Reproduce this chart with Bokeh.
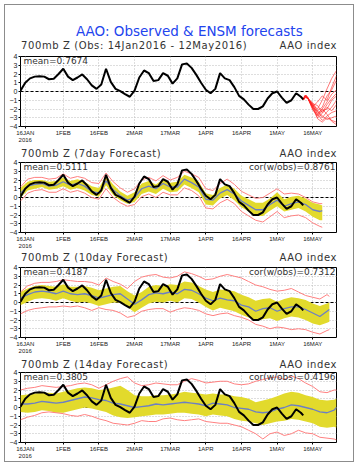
from bokeh.plotting import figure
from bokeh.models import Range1d, FixedTicker, Span, Label, Div
from bokeh.layouts import column
from bokeh.embed import file_html
from bokeh.resources import INLINE

# ---------------- data ----------------
TICK_DAYS = [0, 16, 31, 46, 61, 76, 91, 106, 121]          # days since 16JAN2016
TICK_LABELS = ["16JAN\n2016", "1FEB", "16FEB", "2MAR", "17MAR", "1APR", "16APR", "1MAY", "16MAY"]
Y_TICKS = [-4, -3, -2, -1, 0, 1, 2, 3, 4]

OBS_DAY = [-2, 0, 2, 4, 6, 8, 10, 12, 14, 16, 18, 20, 22, 24, 26, 28, 30, 32, 34, 36,
           38, 40, 42, 44, 46, 48, 50, 52, 54, 56, 58, 60, 62, 64, 66, 68, 70, 72, 74, 76,
           78, 80, 82, 84, 86, 88, 90, 92, 94, 96, 98, 100, 102, 104, 106, 108, 110, 112, 114, 116, 117]
OBS_VAL = [0.1, 1.0, 1.5, 1.7, 1.75, 1.7, 1.4, 1.45, 2.0, 2.6, 1.7, 1.3, 1.6, 1.95, 1.4, 0.7, 0.3, 0.8, 2.6, 1.1,
           0.3, 0.05, -0.3, -0.6, 0.1, 1.6, 2.4, 2.1, 1.2, 1.3, 2.1, 1.8, 0.9, 1.5, 3.1, 3.2, 2.7, 1.9, 1.0, 0.2,
           -0.2, 0.3, 2.1, 1.5, 1.3, 0.5, -0.5, -0.9, -1.5, -2.0, -2.0, -1.7, -0.8, -0.2, 0.0, -0.7, -1.3, -1.0, -0.2, -0.6, -0.9]

# ensemble members of the 14-day forecast from 12MAY (panel 1)
ENS_DAY = [117, 118, 119, 121, 123, 125, 127, 129, 131]
ENS_MEMBERS = [
    [-0.9, -0.5, -0.8, -1.5, -2.0, -1.0, 0.3, 1.5, 2.4],
    [-0.9, -0.5, -0.8, -1.7, -1.2, -0.5, -1.0, 0.5, 1.8],
    [-0.9, -0.5, -0.8, -1.3, -2.2, -1.8, -0.5, 0.2, 1.3],
    [-0.9, -0.5, -0.8, -1.8, -2.5, -2.0, -1.2, -0.3, 0.2],
    [-0.9, -0.5, -0.8, -1.4, -1.6, -2.4, -1.5, -0.8, -0.2],
    [-0.9, -0.5, -0.8, -1.9, -2.8, -2.2, -2.0, -1.0, -0.5],
    [-0.9, -0.5, -0.8, -1.6, -2.3, -3.0, -2.3, -1.8, -1.0],
    [-0.9, -0.5, -0.8, -2.0, -3.0, -2.5, -1.8, -2.2, -1.5],
    [-0.9, -0.5, -0.8, -1.5, -2.6, -3.3, -2.8, -2.4, -2.2],
    [-0.9, -0.5, -0.8, -1.8, -2.2, -2.8, -3.2, -3.0, -2.8],
    [-0.9, -0.5, -0.8, -1.7, -3.1, -3.5, -3.0, -3.3, -3.5],
    [-0.9, -0.5, -0.8, -2.1, -2.7, -2.0, -2.6, -3.4, -3.8],
]

# 7-day forecast
F7_DAY = [-2, 1, 4, 7, 10, 13, 16, 19, 22, 25, 28, 31, 34, 37, 40, 43, 46, 49, 52, 55, 58, 61,
          64, 67, 70, 73, 76, 79, 82, 85, 88, 91, 94, 97, 100, 103, 106, 109, 112, 115, 118, 121, 124, 125]
F7_MEAN = [0.5, 1.3, 1.5, 1.6, 1.3, 1.4, 1.8, 1.4, 1.6, 1.3, 0.7, 0.5, 1.9, 0.9, 0.2, -0.3, 0.0, 1.0, 1.3, 1.0, 1.6, 1.2,
           1.2, 2.1, 1.7, 1.2, -0.2, -0.3, 0.5, 0.9, 0.4, -0.4, -0.9, -1.4, -1.4, -0.8, -0.3, -1.0, -0.7, -0.5, -0.8, -1.4, -1.6, -1.5]
F7_SD_HI = [1.1, 1.8, 2.0, 2.0, 1.8, 1.9, 2.3, 1.9, 2.1, 1.8, 1.3, 1.1, 2.5, 1.5, 0.7, 0.2, 0.6, 1.6, 1.9, 1.5, 2.1, 1.7,
            1.8, 2.6, 2.3, 1.8, 0.5, 0.3, 1.1, 1.5, 1.0, 0.2, -0.2, -0.6, -0.6, -0.1, 0.6, -0.2, 0.1, 0.2, -0.1, -0.6, -0.8, -0.9]
F7_SD_LO = [0.0, 0.8, 1.0, 1.2, 0.9, 1.0, 1.3, 0.9, 1.1, 0.8, 0.3, 0.1, 1.4, 0.3, -0.3, -0.7, -0.5, 0.4, 0.7, 0.4, 1.0, 0.6,
            0.7, 1.5, 1.1, 0.6, -0.8, -0.9, -0.1, 0.3, -0.3, -1.1, -1.6, -2.1, -2.1, -1.5, -1.0, -1.6, -1.4, -1.2, -1.6, -2.2, -2.6, -2.6]
F7_MAX = [1.2, 2.1, 2.3, 2.3, 2.1, 2.2, 2.7, 2.2, 2.4, 2.2, 1.7, 1.6, 2.8, 1.8, 1.1, 0.6, 1.0, 2.0, 2.3, 1.9, 2.5, 2.0,
          2.3, 3.0, 2.7, 2.3, 1.0, 0.8, 1.6, 2.1, 1.5, 0.7, 0.3, -0.1, 0.0, 0.5, 1.0, 0.4, 0.5, 0.4, 0.0, -0.5, -0.7, -0.7]
F7_MIN = [-0.4, 0.5, 0.8, 0.9, 0.6, 0.6, 1.0, 0.6, 0.8, 0.5, 0.0, -0.2, 1.0, 0.0, -0.6, -1.0, -0.8, 0.1, 0.4, 0.0, 0.6, 0.3,
          0.3, 1.1, 0.8, 0.2, -1.2, -1.3, -0.6, -0.2, -0.7, -1.6, -2.1, -2.6, -2.8, -2.2, -1.6, -2.3, -2.1, -2.0, -2.3, -2.9, -3.3, -3.4]

# 10-day forecast
F10_DAY = [-2, 1, 4, 7, 10, 13, 16, 19, 22, 25, 28, 31, 34, 37, 40, 43, 46, 49, 52, 55, 58, 61,
           64, 67, 70, 73, 76, 79, 82, 85, 88, 91, 94, 97, 100, 103, 106, 109, 112, 115, 118, 121, 124, 127, 128]
F10_MEAN = [0.5, 0.9, 1.2, 1.3, 1.2, 1.0, 1.3, 1.0, 0.9, 1.0, 0.8, 0.5, 0.7, 0.9, 1.0, 0.4, -0.2, 0.3, 0.9, 1.1, 1.0, 1.2,
            1.0, 1.5, 1.4, 1.0, 0.5, 0.2, 0.5, 0.3, 0.2, -0.3, -0.5, -1.0, -0.7, -0.6, -1.0, -0.7, -0.5, -0.5, -0.8, -1.2, -1.6, -1.0, -0.8]
F10_SD_HI = [1.2, 1.6, 1.9, 2.0, 1.9, 1.8, 2.1, 1.8, 1.8, 1.9, 1.7, 1.4, 1.6, 1.8, 1.9, 1.3, 0.8, 1.2, 1.8, 2.0, 1.9, 2.1,
             2.0, 2.4, 2.3, 1.9, 1.5, 1.2, 1.5, 1.4, 1.3, 0.9, 0.6, 0.2, 0.4, 0.5, 0.1, 0.4, 0.6, 0.5, 0.3, -0.1, -0.4, -0.1, 0.0]
F10_SD_LO = [-0.3, 0.1, 0.4, 0.5, 0.4, 0.2, 0.5, 0.2, 0.0, 0.1, -0.1, -0.4, -0.2, 0.0, 0.0, -0.5, -1.1, -0.6, -0.1, 0.1, 0.0, 0.2,
             0.0, 0.5, 0.4, 0.0, -0.5, -0.9, -0.6, -0.8, -1.0, -1.4, -1.7, -2.1, -1.9, -1.8, -2.1, -1.8, -1.6, -1.7, -2.0, -2.4, -2.6, -2.3, -2.2]
F10_MAX = [1.2, 1.9, 2.2, 2.3, 2.3, 2.4, 2.6, 2.5, 2.4, 2.4, 2.3, 2.0, 2.8, 2.4, 2.1, 1.6, 2.4, 2.9, 3.1, 3.2, 2.9, 2.8,
           3.0, 3.5, 3.3, 3.0, 2.6, 2.7, 3.0, 3.2, 3.0, 2.8, 2.4, 2.0, 1.8, 1.5, 1.3, 1.4, 1.6, 1.2, 0.8, 0.6, 0.4, 0.9, 0.7]
F10_MIN = [-1.3, -0.9, -0.7, -0.6, -0.5, -0.5, -0.4, -0.5, -0.4, -0.6, -0.9, -0.6, -0.8, -0.9, -1.2, -1.7, -1.5, -1.0, -0.8, -0.7, -0.7, -1.1,
           -0.8, -0.6, -0.7, -0.9, -1.3, -1.5, -1.3, -1.2, -1.5, -1.7, -2.0, -2.5, -2.7, -3.0, -2.8, -2.9, -3.1, -3.0, -3.1, -3.4, -3.6, -3.2, -3.1]

# 14-day forecast
F14_DAY = [-2, 1, 4, 7, 10, 13, 16, 19, 22, 25, 28, 31, 34, 37, 40, 43, 46, 49, 52, 55, 58, 61,
           64, 67, 70, 73, 76, 79, 82, 85, 88, 91, 94, 97, 100, 103, 106, 109, 112, 115, 118, 121, 124, 127, 130, 131]
F14_MEAN = [0.4, 0.4, 0.5, 0.7, 0.6, 0.5, 0.6, 0.8, 1.0, 1.2, 1.1, 0.9, 0.8, 0.5, 0.4, 0.2, 0.0, 0.1, 0.2, 0.4, 0.3, 0.4,
            0.5, 0.6, 0.5, 0.4, 0.2, 0.5, 0.4, 0.3, 0.0, -0.1, -0.2, -0.5, -0.6, -0.5, -0.2, 0.0, 0.3, 0.2, 0.0, -0.2, -0.5, -0.6, -0.3, 0.0]
F14_SD_HI = [1.4, 1.5, 1.6, 1.7, 1.7, 1.6, 1.8, 2.0, 2.2, 2.3, 2.2, 2.0, 2.1, 2.3, 2.5, 2.0, 1.4, 1.3, 1.3, 1.4, 1.4, 1.5,
             1.6, 1.8, 1.7, 1.6, 1.5, 1.6, 1.5, 1.5, 1.3, 1.2, 1.0, 0.6, 0.8, 1.0, 1.3, 1.6, 1.8, 1.7, 1.4, 1.2, 0.9, 0.8, 0.9, 1.0]
F14_SD_LO = [-0.5, -0.6, -0.5, -0.3, -0.4, -0.6, -0.6, -0.4, -0.2, 0.0, -0.1, -0.3, -0.5, -0.9, -1.1, -1.2, -1.1, -1.0, -0.9, -0.8, -0.8, -0.7,
             -0.6, -0.6, -0.7, -0.8, -1.0, -0.8, -0.9, -1.0, -1.3, -1.5, -1.6, -1.8, -2.0, -1.8, -1.6, -1.5, -1.3, -1.4, -1.6, -1.8, -2.2, -2.3, -2.2, -2.3]
F14_MAX = [2.0, 2.2, 2.3, 2.5, 2.4, 2.3, 2.4, 2.5, 2.7, 2.8, 2.6, 2.2, 2.6, 3.0, 3.3, 3.5, 2.8, 2.5, 2.6, 2.8, 2.7, 2.6,
           2.6, 3.0, 3.3, 3.1, 2.8, 2.9, 3.0, 3.0, 2.7, 2.6, 2.7, 3.0, 3.2, 3.4, 3.5, 3.2, 3.6, 3.3, 2.8, 2.4, 1.8, 1.7, 2.0, 2.0]
F14_MIN = [-1.4, -1.1, -0.9, -0.6, -0.5, -0.6, -0.7, -0.9, -1.0, -0.8, -1.0, -1.3, -1.5, -1.8, -1.9, -2.0, -1.8, -1.5, -1.6, -1.6, -1.3, -1.2,
           -1.4, -1.5, -1.4, -1.3, -1.6, -1.7, -1.8, -1.8, -2.0, -2.2, -2.6, -3.0, -3.6, -3.0, -2.8, -3.2, -3.0, -2.6, -2.9, -3.0, -3.4, -3.5, -3.6, -3.7]

MAIN_TITLE = "AAO: Observed &amp; ENSM forecasts"
PANEL_TITLES = ["700mb Z (Obs: 14Jan2016 - 12May2016)", "700mb Z (7day Forecast)",
                "700mb Z (10day Forecast)", "700mb Z (14day Forecast)"]
RIGHT_TITLE = "AAO index"
MEANS = ["mean=0.7674", "mean=0.5111", "mean=0.4187", "mean=0.3805"]
CORS = [None, "cor(w/obs)=0.8761", "cor(w/obs)=0.7312", "cor(w/obs)=0.4196"]

FONT = "DejaVu Sans"
X0, X1 = -2, 131
YELLOW = "#e2da2c"
PINK = "#ff8080"
BLUE = "#6c7fc4"
W = 348


def title_div(height, text_top, left_text, main_top=None):
    span = ("position:absolute;top:{t}px;line-height:12px;white-space:nowrap;letter-spacing:0.6px;"
            "font-family:'DejaVu Sans';font-size:10px;color:#333333;")
    html = '<div style="position:relative;width:%dpx;height:%dpx;overflow:visible;">' % (W, height)
    if main_top is not None:
        html += ('<div style="position:absolute;left:71px;top:%dpx;line-height:16px;'
                 'white-space:nowrap;font-family:\'DejaVu Sans\';font-size:13.5px;'
                 'color:#2244ee;">%s</div>' % (main_top, MAIN_TITLE))
    html += '<span style="left:16px;%s">%s</span>' % (span.format(t=text_top), left_text)
    html += '<span style="right:16px;%s">%s</span>' % (span.format(t=text_top), RIGHT_TITLE)
    html += '</div>'
    return Div(text=html, width=W, height=height, margin=0, styles={"overflow": "visible"})


def make_panel(idx, top, bottom):
    p = figure(frame_width=316, frame_height=70, min_border_left=15, min_border_right=17,
               min_border_top=top, min_border_bottom=bottom,
               x_range=Range1d(X0, X1), y_range=Range1d(-4, 4),
               output_backend="svg", toolbar_location=None, tools="", margin=0)
    p.outline_line_color = "black"
    p.outline_line_width = 1
    p.background_fill_color = "white"
    p.border_fill_color = None

    p.xaxis.ticker = FixedTicker(ticks=TICK_DAYS)
    p.xaxis.major_label_overrides = {d: l for d, l in zip(TICK_DAYS, TICK_LABELS)}
    p.yaxis.ticker = FixedTicker(ticks=Y_TICKS)
    for ax in (p.xaxis, p.yaxis):
        ax.axis_line_color = None
        ax.minor_tick_line_color = None
        ax.major_tick_in = 0
        ax.major_tick_out = 2
        ax.major_tick_line_color = "black"
        ax.major_label_text_font = "Liberation Sans"
        ax.major_label_text_color = "#222222"
        ax.major_label_standoff = 1
    p.xaxis.major_label_text_font_size = "6px"
    p.yaxis.major_label_text_font_size = "7px"
    p.xgrid.ticker = FixedTicker(ticks=TICK_DAYS)
    p.ygrid.ticker = FixedTicker(ticks=Y_TICKS)
    for g in (p.xgrid, p.ygrid):
        g.grid_line_color = "#bcbcbc"
        g.grid_line_dash = "1 2"
        g.grid_line_width = 1

    p.add_layout(Label(x=X0, y=3.45, text=MEANS[idx], text_font=FONT, text_font_size="9px",
                       text_color="#333333", text_align="left", text_baseline="middle", x_offset=3))
    if CORS[idx]:
        p.add_layout(Label(x=X1, y=3.45, text=CORS[idx], text_font=FONT, text_font_size="9px",
                           text_color="#333333", text_align="right", text_baseline="middle", x_offset=-1))
    p.add_layout(Span(location=0, dimension="width", line_color="black", line_width=1,
                      line_dash="3 2", level="underlay"))
    return p


# panel 1: observations + ensemble
p1 = make_panel(0, 5, 21)
p1.multi_line(xs=[ENS_DAY] * len(ENS_MEMBERS), ys=ENS_MEMBERS, line_color="#ff2020", line_width=0.8,
              line_alpha=0.75)
p1.line(ENS_DAY[:3], ENS_MEMBERS[0][:3], line_color="#ff2020", line_width=2)
p1.line(OBS_DAY, OBS_VAL, line_color="black", line_width=2)

panels = [p1]
specs = [(F7_DAY, F7_MEAN, F7_SD_HI, F7_SD_LO, F7_MAX, F7_MIN, 5, 20),
         (F10_DAY, F10_MEAN, F10_SD_HI, F10_SD_LO, F10_MAX, F10_MIN, 5, 20),
         (F14_DAY, F14_MEAN, F14_SD_HI, F14_SD_LO, F14_MAX, F14_MIN, 5, 16)]
for i, (d, m, hi, lo, mx, mn, top, bot) in enumerate(specs, start=1):
    p = make_panel(i, top, bot)
    p.varea(x=d, y1=lo, y2=hi, fill_color=YELLOW, fill_alpha=1.0)
    p.line(d, mx, line_color=PINK, line_width=1)
    p.line(d, mn, line_color=PINK, line_width=1)
    p.line(d, m, line_color=BLUE, line_width=1.3)
    p.line(OBS_DAY, OBS_VAL, line_color="black", line_width=2)
    panels.append(p)

divs = [title_div(46, 35, PANEL_TITLES[0], main_top=18),
        title_div(10, -1, PANEL_TITLES[1]),
        title_div(10, -2, PANEL_TITLES[2]),
        title_div(10, 0, PANEL_TITLES[3])]

children = []
for dv, p in zip(divs, panels):
    children += [dv, p]

layout = column(*children, spacing=0,
                styles={"border": "1px solid #8c8c8c", "margin-left": "4px", "margin-top": "4px"})

open("out.html", "w").write(file_html(layout, INLINE))
